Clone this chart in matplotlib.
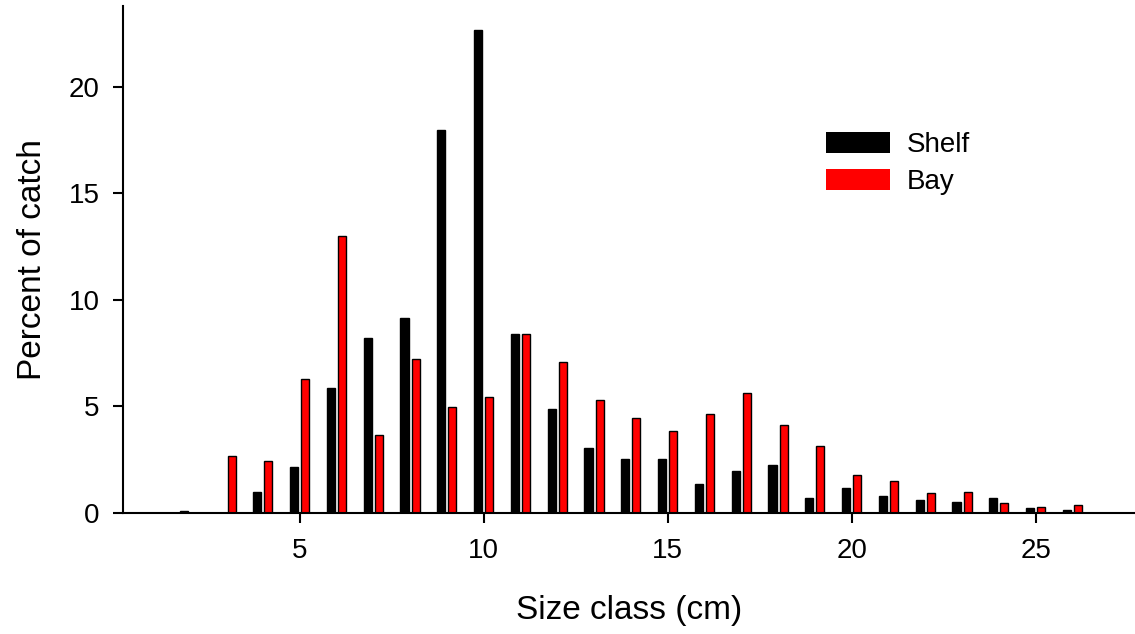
import matplotlib
matplotlib.use("Agg")
import matplotlib.pyplot as plt
import numpy as np

plt.rcParams['font.family'] = ['Liberation Sans', 'DejaVu Sans']

# size classes (cm)
size_class = np.arange(2, 27)

# percent of catch
shelf = [0.1, 0.0, 0.98, 2.15, 5.87, 8.2, 9.15, 17.98, 22.68, 8.4, 4.9, 3.05,
         2.55, 2.55, 1.38, 1.97, 2.25, 0.69, 1.19, 0.8, 0.61, 0.5, 0.69, 0.22, 0.13]
bay = [0.0, 2.69, 2.44, 6.3, 13.0, 3.66, 7.23, 4.98, 5.45, 8.4, 7.09, 5.29,
       4.46, 3.87, 4.66, 5.63, 4.15, 3.15, 1.77, 1.52, 0.92, 0.99, 0.45, 0.27, 0.39]

series_names = ["Shelf", "Bay"]
series_colors = ["black", "red"]

fig = plt.figure(figsize=(11.35, 6.34), dpi=100)
ax = fig.add_axes([123 / 1135, 1 - 513 / 634, 1 - 123 / 1135, (513 - 6) / 634])

off = 0.15
w = 0.22
ax.bar(size_class - off, shelf, width=w, color=series_colors[0], edgecolor="black",
       linewidth=1, label=series_names[0])
ax.bar(size_class + off, bay, width=w, color=series_colors[1], edgecolor="black",
       linewidth=1, label=series_names[1])

ax.set_xlim(0.2, 27.7)
ax.set_ylim(0, 23.8)
ax.set_xticks([5, 10, 15, 20, 25])
ax.set_yticks([0, 5, 10, 15, 20])

ax.spines['top'].set_visible(False)
ax.spines['right'].set_visible(False)
ax.spines['left'].set_linewidth(1.5)
ax.spines['bottom'].set_linewidth(1.5)
ax.tick_params(direction='out', length=7, width=1.5, labelsize=20)
ax.tick_params(axis='x', pad=11)
ax.tick_params(axis='y', pad=10)

ax.set_xlabel("Size class (cm)", fontsize=24, labelpad=22)
ax.set_ylabel("Percent of catch", fontsize=24, labelpad=15)

leg = ax.legend(loc='upper left', bbox_to_anchor=(826 / 1135, 1 - 132 / 634),
                bbox_transform=fig.transFigure, frameon=False, fontsize=20,
                handlelength=2.3, handleheight=0.78, handletextpad=0.6,
                labelspacing=0.38, borderpad=0, borderaxespad=0)
for h in leg.legend_handles:
    h.set_edgecolor('none')

plt.savefig("out.png", dpi=100)
plt.close()
